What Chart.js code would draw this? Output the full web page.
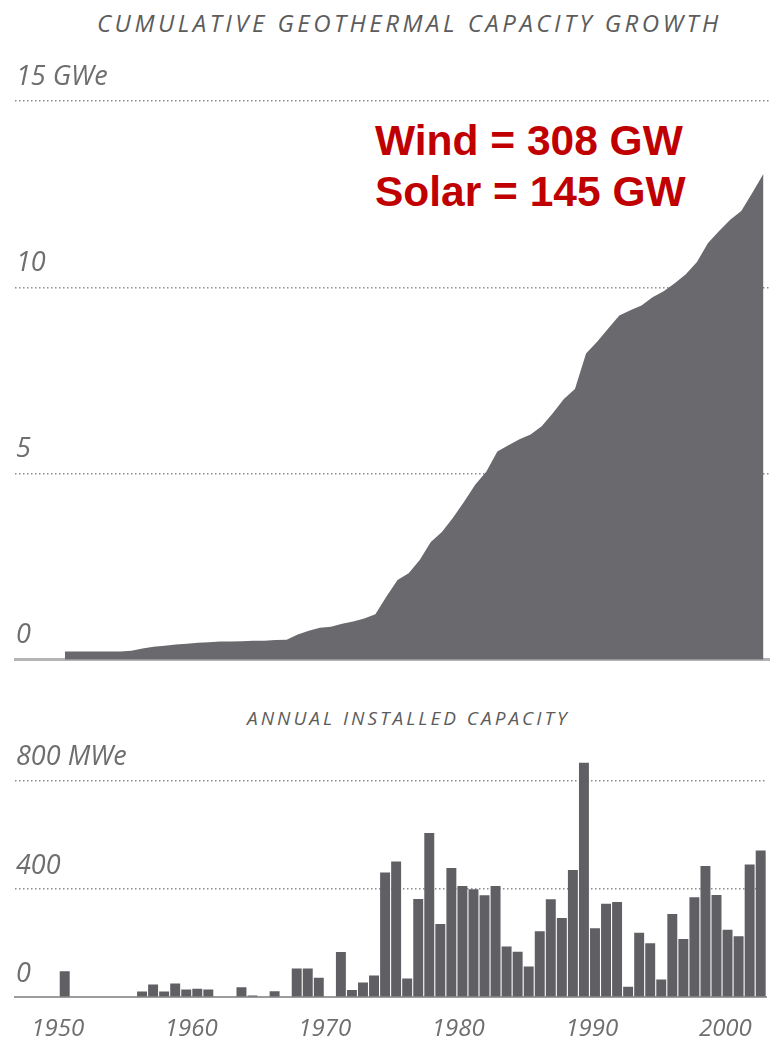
<!DOCTYPE html>
<html>
<head>
<meta charset="utf-8">
<title>Geothermal capacity</title>
<script src="https://cdn.jsdelivr.net/npm/chart.js@4.4.1/dist/chart.umd.min.js"></script>
<style>
    body {
        margin: 0;
        background: #fff;
        width: 770px;
        height: 1045px;
        position: relative;
        overflow: hidden;
        font-family: "Open Sans", sans-serif;
    }
    .titulo {
        position: absolute;
        font-style: italic;
        color: #5c5c5c;
        white-space: nowrap;
    }
    #titulo1 { left: 97px; top: 11px; font-size: 24px; line-height: 24px; letter-spacing: 3.5px; }
    #titulo2 { left: 247px; top: 709px; font-size: 19px; line-height: 19px; letter-spacing: 3px; }
    #nota {
        position: absolute;
        left: 375px;
        top: 115px;
        font-family: "Liberation Sans", Arial, sans-serif;
        font-weight: bold;
        font-size: 42.5px;
        line-height: 51px;
        color: #c00000;
        white-space: nowrap;
    }
    canvas { position: absolute; left: 0; }
    #chartTop { top: 50px; }
    #chartBottom { top: 700px; }
</style>
</head>
<body>
<div class="titulo" id="titulo1">CUMULATIVE GEOTHERMAL CAPACITY GROWTH</div>
<div id="nota">Wind = 308 GW<br>Solar = 145 GW</div>
<canvas id="chartTop" width="770" height="627"></canvas>
<div class="titulo" id="titulo2">ANNUAL INSTALLED CAPACITY</div>
<canvas id="chartBottom" width="770" height="363"></canvas>

<script>
// years of the bars (first four are empty slots before the data)
const years = [1946, 1947, 1948, 1949,
    1950, 1951, 1952, 1953, 1954, 1955, 1956, 1957, 1958, 1959,
    1960, 1961, 1962, 1963, 1964, 1965, 1966, 1967, 1968, 1969,
    1970, 1971, 1972, 1973, 1974, 1975, 1976, 1977, 1978, 1979,
    1980, 1981, 1982, 1983, 1984, 1985, 1986, 1987, 1988, 1989,
    1990, 1991, 1992, 1993, 1994, 1995, 1996, 1997, 1998, 1999,
    2000, 2001, 2002, 2003, 2004, 2005, 2006, 2007, 2008, 2009,
    2010, 2011, 2012, 2013];

// cumulative capacity, GWe
const cumulativeGW = [null, null, null, null,
    0.22, 0.22, 0.22, 0.22, 0.22, 0.22, 0.24, 0.30, 0.35, 0.38,
    0.41, 0.43, 0.46, 0.47, 0.49, 0.49, 0.50, 0.51, 0.51, 0.53,
    0.54, 0.68, 0.78, 0.86, 0.89, 0.97, 1.03, 1.11, 1.22, 1.70,
    2.14, 2.32, 2.68, 3.16, 3.43, 3.81, 4.24, 4.70, 5.05, 5.59,
    5.76, 5.92, 6.05, 6.27, 6.62, 7.00, 7.27, 8.22, 8.54, 8.89,
    9.24, 9.38, 9.51, 9.73, 9.89, 10.11, 10.35, 10.68, 11.19, 11.51,
    11.81, 12.05, 12.54, 13.05];

// annual installed capacity, MWe
const annualMW = [null, null, null, null,
    96, 0, 0, 0, 0, 0, 0, 21, 47, 21,
    51, 28, 31, 28, 0, 0, 37, 6, 0, 22,
    3, 106, 106, 72, 3, 167, 27, 54, 80, 461,
    501, 69, 363, 607, 270, 477, 411, 399, 377, 411,
    187, 168, 113, 244, 362, 293, 470, 866, 255, 345,
    352, 39, 238, 199, 65, 307, 215, 369, 485, 378,
    249, 225, 490, 542];

const gwTicks = [0, 5, 10, 15];
const mwTicks = [0, 400, 800];
const yearTicks = [1950, 1960, 1970, 1980, 1990, 2000];

const labelFont = { family: "'Open Sans', sans-serif", size: 27, style: "italic" };
const labelColor = "#6e6e6e";
const dotColor = "#8c8c8c";

function gridDotted(ctx) {
    return ctx.tick && ctx.tick.value === 0 ? "rgba(0,0,0,0)" : dotColor;
}

function desenharTopo() {
    new Chart(document.getElementById("chartTop"), {
        type: "line",
        data: {
            labels: years,
            datasets: [{
                data: cumulativeGW,
                fill: "origin",
                backgroundColor: "#69696e",
                borderWidth: 0,
                pointRadius: 0,
                tension: 0,
            }],
        },
        options: {
            responsive: false,
            animation: false,
            layout: { padding: { left: 13, right: 1, top: 51, bottom: 11 } },
            plugins: { legend: { display: false }, tooltip: { enabled: false } },
            scales: {
                x: {
                    type: "category",
                    offset: true,
                    grid: { display: false, drawTicks: false },
                    ticks: { display: false },
                    border: { display: true, color: "#b4b4b4", width: 3 },
                },
                y: {
                    min: 0,
                    max: 15,
                    afterBuildTicks: (axis) => { axis.ticks = gwTicks.map((v) => ({ value: v })); },
                    grid: { color: gridDotted, lineWidth: 1.5, drawTicks: false },
                    border: { display: false, dash: [1.5, 2.5] },
                    ticks: {
                        mirror: true,
                        padding: 1,
                        labelOffset: -24,
                        font: labelFont,
                        color: labelColor,
                        callback: (v) => (v === 15 ? "15 GWe" : String(v)),
                    },
                },
            },
        },
    });
}

function desenharBarras() {
    new Chart(document.getElementById("chartBottom"), {
        type: "bar",
        data: {
            labels: years,
            datasets: [{
                data: annualMW,
                backgroundColor: "#5f5f64",
                barPercentage: 0.9,
                categoryPercentage: 1,
                xAxisID: "x",
                yAxisID: "y",
            }],
        },
        options: {
            responsive: false,
            animation: false,
            layout: { padding: { left: 13, right: 1, top: 59, bottom: 1 } },
            plugins: { legend: { display: false }, tooltip: { enabled: false } },
            scales: {
                x: {
                    type: "category",
                    grid: { display: false, drawTicks: false },
                    ticks: { display: false },
                    border: { display: true, color: "#9c9c9c", width: 2 },
                },
                // year labels sit on their own scale, not on the bar slots
                anos: {
                    type: "linear",
                    position: "bottom",
                    offset: false,
                    min: 1946.8,
                    max: 2003.06,
                    afterBuildTicks: (axis) => { axis.ticks = yearTicks.map((v) => ({ value: v })); },
                    grid: { display: false, drawTicks: false, offset: false },
                    border: { display: false },
                    ticks: {
                        padding: 18,
                        font: { family: "'Open Sans', sans-serif", size: 24, style: "italic" },
                        color: labelColor,
                        maxRotation: 0,
                        autoSkip: false,
                        callback: (v) => String(v),
                    },
                },
                y: {
                    min: 0,
                    max: 880,
                    afterBuildTicks: (axis) => { axis.ticks = mwTicks.map((v) => ({ value: v })); },
                    grid: { color: gridDotted, lineWidth: 1.5, drawTicks: false },
                    border: { display: false, dash: [1.5, 2.5] },
                    ticks: {
                        mirror: true,
                        padding: 1,
                        labelOffset: -23,
                        font: labelFont,
                        color: labelColor,
                        callback: (v) => (v === 800 ? "800 MWe" : String(v)),
                    },
                },
            },
        },
    });
}

document.addEventListener("DOMContentLoaded", function () {
    desenharTopo();
    desenharBarras();
});
</script>
</body>
</html>
